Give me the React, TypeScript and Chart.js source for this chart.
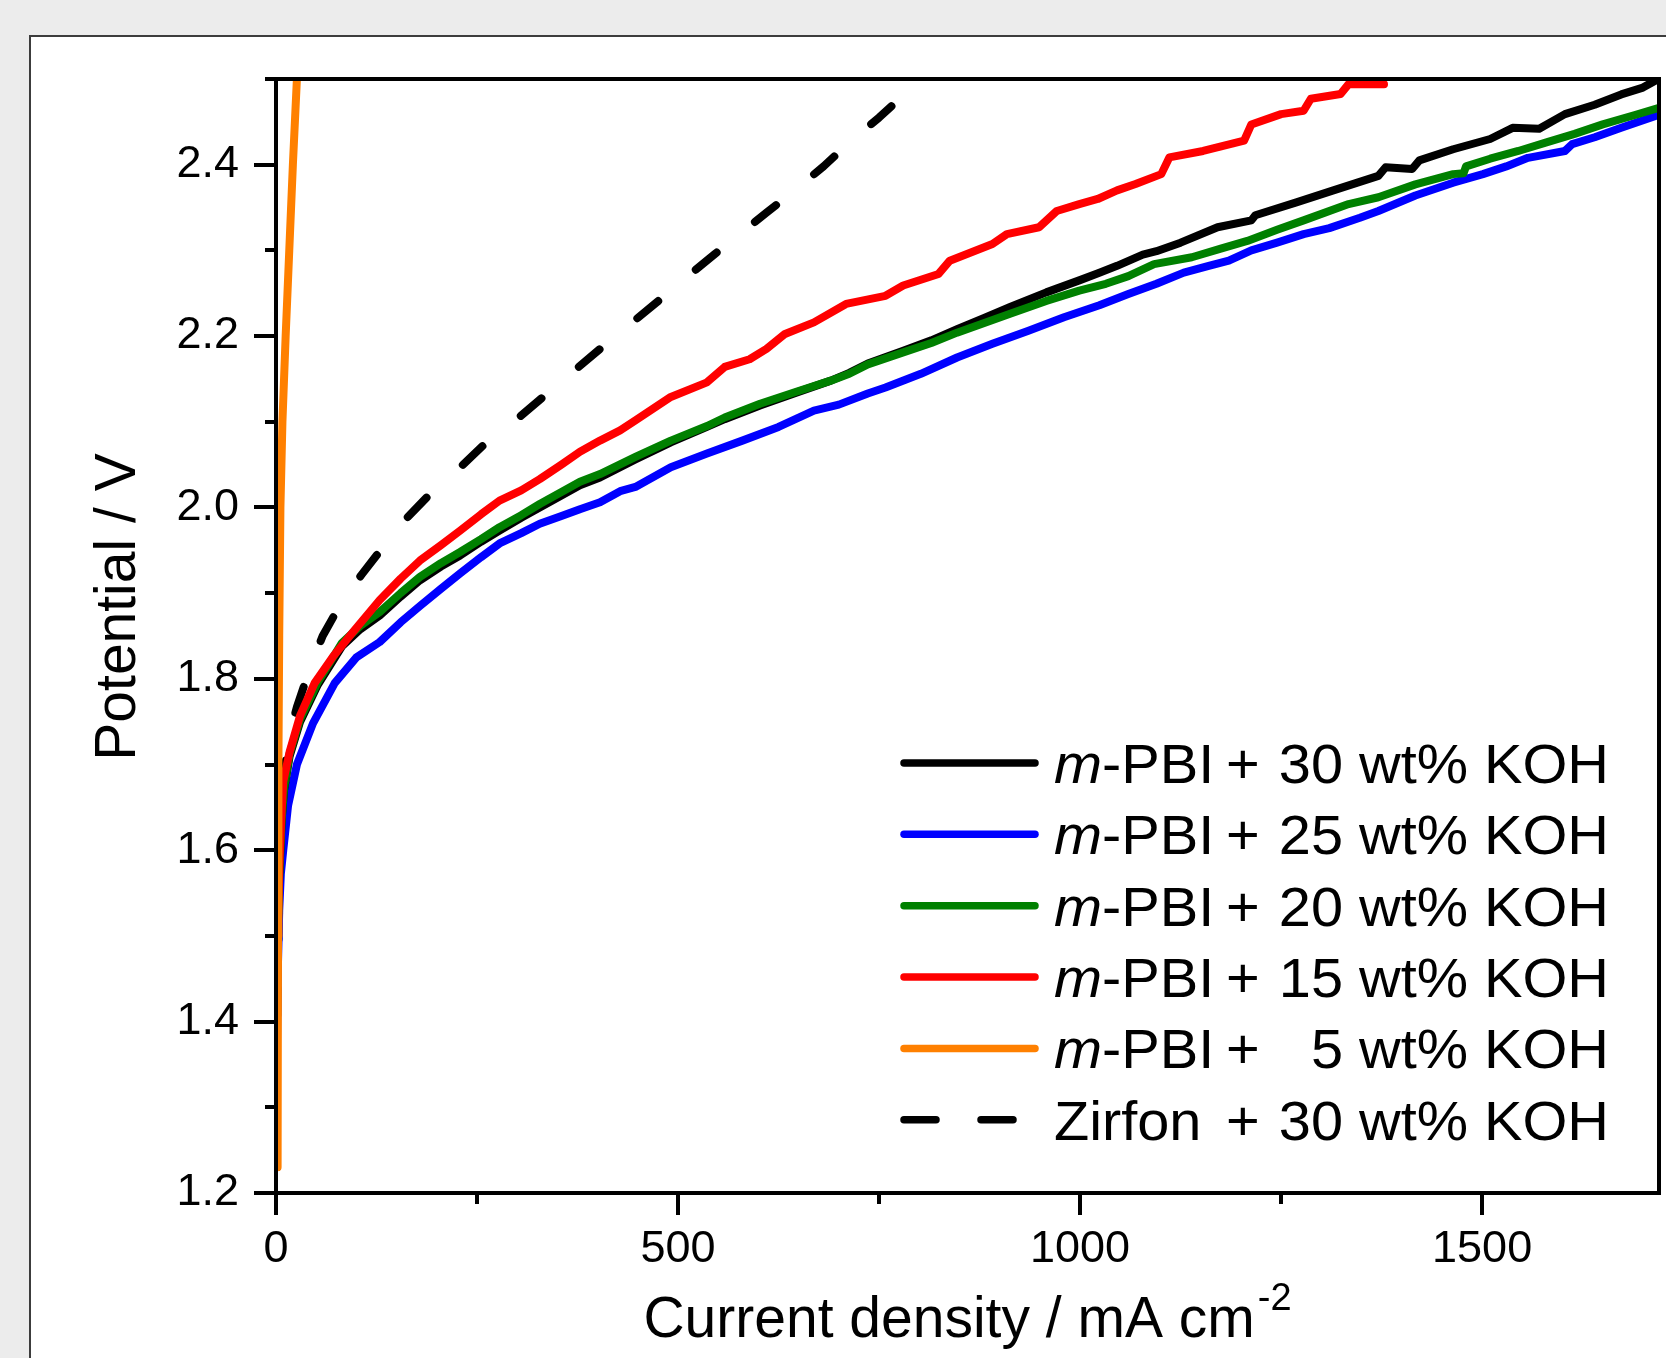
import React, { useEffect, useRef } from "react";
import { Chart, registerables } from "chart.js";

Chart.register(...registerables);

type Pt = [number, number];

// ---- axes ----
const xRange: number[] = [0, 1720];
const yRange: number[] = [1.2, 2.5];
const xMajorTicks: number[] = [0, 500, 1000, 1500];
const xMinorTicks: number[] = [250, 750, 1250];
const yMajorTicks: number[] = [1.2, 1.4, 1.6, 1.8, 2.0, 2.2, 2.4];
const yMinorTicks: number[] = [1.3, 1.5, 1.7, 1.9, 2.1, 2.3, 2.5];
const xTitleMain = "Current density / mA cm";
const xTitleSup = "-2";
const yTitle = "Potential / V";

// ---- series (current density mA cm-2, potential V) ----
const pbi30: Pt[] = [
  [0, 1.23], [1, 1.4], [2, 1.5], [4, 1.57], [7, 1.635], [10, 1.67], [17, 1.71], [30, 1.75], [52, 1.793],
  [82, 1.838], [105, 1.858], [129, 1.874], [155, 1.896], [179, 1.915], [205, 1.931], [229, 1.944],
  [255, 1.96], [278, 1.973], [305, 1.988], [328, 2.0], [355, 2.014], [378, 2.026], [403, 2.035],
  [447, 2.056], [491, 2.076], [536, 2.094], [558, 2.103], [602, 2.119], [647, 2.134], [690, 2.148],
  [713, 2.157], [736, 2.168], [780, 2.183], [815, 2.195], [847, 2.208], [880, 2.221], [913, 2.234],
  [958, 2.251], [999, 2.265], [1024, 2.274], [1046, 2.282], [1078, 2.295], [1095, 2.299], [1125, 2.309],
  [1171, 2.327], [1213, 2.335], [1218, 2.341], [1269, 2.356], [1315, 2.37], [1371, 2.387], [1380, 2.397],
  [1413, 2.395], [1422, 2.405], [1464, 2.418], [1510, 2.43], [1538, 2.443], [1571, 2.442], [1603, 2.459],
  [1640, 2.47], [1673, 2.482], [1700, 2.49], [1719, 2.5],
];
const pbi25: Pt[] = [
  [0, 1.23], [1, 1.35], [2, 1.45], [4, 1.53], [6, 1.572], [9, 1.6], [15, 1.652], [26, 1.7], [46, 1.748],
  [73, 1.795], [100, 1.825], [129, 1.843], [155, 1.866], [179, 1.885], [205, 1.905], [229, 1.923],
  [255, 1.942], [278, 1.958], [305, 1.97], [328, 1.981], [355, 1.99], [378, 1.998], [403, 2.006],
  [428, 2.019], [447, 2.024], [491, 2.047], [536, 2.063], [580, 2.078], [625, 2.094], [669, 2.113],
  [700, 2.12], [736, 2.133], [758, 2.14], [802, 2.156], [847, 2.175], [891, 2.191], [935, 2.206],
  [980, 2.222], [1024, 2.236], [1060, 2.249], [1095, 2.261], [1129, 2.274], [1160, 2.282], [1185, 2.288],
  [1213, 2.3], [1245, 2.309], [1278, 2.319], [1310, 2.326], [1348, 2.338], [1371, 2.346], [1417, 2.364],
  [1464, 2.379], [1501, 2.389], [1530, 2.398], [1557, 2.408], [1603, 2.416], [1612, 2.424], [1640, 2.432],
  [1673, 2.443], [1719, 2.458],
];
const pbi20: Pt[] = [
  [0, 1.23], [1, 1.4], [2, 1.5], [4, 1.57], [7, 1.635], [10, 1.672], [17, 1.713], [30, 1.753], [52, 1.796],
  [82, 1.842], [105, 1.862], [129, 1.878], [155, 1.9], [179, 1.919], [205, 1.935], [229, 1.948],
  [255, 1.963], [278, 1.977], [305, 1.991], [328, 2.004], [355, 2.018], [378, 2.03], [403, 2.039],
  [447, 2.059], [491, 2.078], [536, 2.095], [558, 2.105], [602, 2.121], [647, 2.135], [690, 2.148],
  [713, 2.156], [736, 2.167], [780, 2.181], [815, 2.192], [847, 2.204], [880, 2.215], [913, 2.226],
  [958, 2.241], [999, 2.253], [1032, 2.261], [1060, 2.27], [1092, 2.284], [1139, 2.292], [1175, 2.302],
  [1208, 2.311], [1245, 2.324], [1278, 2.335], [1334, 2.354], [1371, 2.362], [1417, 2.377], [1464, 2.389],
  [1477, 2.39], [1480, 2.398], [1510, 2.407], [1545, 2.416], [1580, 2.426], [1615, 2.436], [1650, 2.447],
  [1690, 2.458], [1719, 2.466],
];
const pbi15: Pt[] = [
  [0, 1.23], [1, 1.42], [2, 1.5], [4, 1.58], [7, 1.645], [9, 1.68], [17, 1.715], [30, 1.757], [48, 1.795],
  [71, 1.826], [96, 1.855], [129, 1.892], [155, 1.917], [179, 1.938], [205, 1.956], [229, 1.973],
  [255, 1.992], [278, 2.008], [305, 2.02], [328, 2.033], [355, 2.05], [378, 2.065], [403, 2.078],
  [428, 2.09], [447, 2.1015], [491, 2.129], [536, 2.146], [558, 2.164], [589, 2.173], [610, 2.185],
  [633, 2.2025], [669, 2.216], [709, 2.2375], [758, 2.247], [780, 2.259], [824, 2.2725], [838, 2.288],
  [891, 2.3075], [909, 2.319], [949, 2.327], [971, 2.346], [999, 2.354], [1022, 2.36], [1046, 2.37],
  [1069, 2.3775], [1101, 2.389], [1111, 2.4085], [1153, 2.416], [1204, 2.428], [1213, 2.447],
  [1250, 2.459], [1278, 2.463], [1287, 2.477], [1324, 2.4825], [1334, 2.494], [1378, 2.494],
];
const pbi5: Pt[] = [
  [2, 1.23], [2.5, 1.5], [3, 1.7], [4, 1.85], [5.5, 2.0], [8, 2.1], [12, 2.2], [16.5, 2.3], [21, 2.4], [26, 2.5],
];
const zirfon30: Pt[] = [
  [0, 1.23], [2, 1.45], [5, 1.58], [8, 1.62], [9.5, 1.68], [15, 1.729], [26, 1.767], [42, 1.812], [58, 1.85],
  [82, 1.89], [106, 1.921], [135, 1.956], [160, 1.985], [196, 2.02], [227, 2.045], [264, 2.078],
  [297, 2.101], [350, 2.143], [403, 2.185], [438, 2.212], [473, 2.239], [506, 2.265], [546, 2.296],
  [577, 2.319], [610, 2.344], [637, 2.364], [681, 2.398], [713, 2.426], [750, 2.455], [784, 2.484], [800, 2.5],
];

// ---- legend / series descriptions (legend order) ----
const seriesData: Pt[][] = [pbi30, pbi25, pbi20, pbi15, pbi5, zirfon30];
const seriesColors: string[] = ["#000000", "#0000ff", "#008000", "#ff0000", "#ff8000", "#000000"];
const seriesDashed: boolean[] = [false, false, false, false, false, true];
const seriesPrefix: string[] = ["m-PBI", "m-PBI", "m-PBI", "m-PBI", "m-PBI", "Zirfon"];
const seriesWt: string[] = ["30", "25", "20", "15", "5", "30"];
const seriesDrawOrder: number[] = [3, 4, 2, 1, 0, 5];

const FONT = '"Liberation Sans", Arial, Helvetica, sans-serif';
const LINE_W = 8;

const overlayPlugin = {
  id: "overlay",
  afterDraw(chart: any) {
    const { ctx, chartArea: ca, scales } = chart;
    ctx.save();
    ctx.setLineDash([]);
    ctx.strokeStyle = "#000";
    ctx.lineWidth = 4;
    ctx.lineCap = "butt";
    ctx.strokeRect(ca.left, ca.top, ca.right - ca.left, ca.bottom - ca.top);

    // minor ticks
    ctx.beginPath();
    yMinorTicks.forEach((v) => {
      const y = Math.round(scales.y.getPixelForValue(v));
      ctx.moveTo(ca.left - 11, y);
      ctx.lineTo(ca.left, y);
    });
    xMinorTicks.forEach((v) => {
      const x = Math.round(scales.x.getPixelForValue(v));
      ctx.moveTo(x, ca.bottom);
      ctx.lineTo(x, ca.bottom + 11);
    });
    ctx.stroke();

    // x title with superscript
    ctx.fillStyle = "#000";
    ctx.textAlign = "left";
    ctx.textBaseline = "alphabetic";
    ctx.font = `57px ${FONT}`;
    const w1 = ctx.measureText(xTitleMain).width;
    ctx.font = `38px ${FONT}`;
    const w2 = ctx.measureText(xTitleSup).width;
    const cx = (ca.left + ca.right) / 2;
    const sx = cx - (w1 + 3 + w2) / 2;
    ctx.font = `57px ${FONT}`;
    ctx.fillText(xTitleMain, sx, ca.bottom + 144);
    ctx.font = `38px ${FONT}`;
    ctx.fillText(xTitleSup, sx + w1 + 3, ca.bottom + 117);

    // y title
    ctx.save();
    ctx.translate(ca.left - 141, (ca.top + ca.bottom) / 2 - 29);
    ctx.rotate(-Math.PI / 2);
    ctx.textAlign = "center";
    ctx.font = `57px ${FONT}`;
    ctx.fillText(yTitle, 0, 0);
    ctx.restore();

    // legend
    const lx0 = ca.right - 755;
    const lx1 = ca.right - 624;
    const textX = ca.right - 605;
    const plusX = ca.right - 433;
    const numRight = ca.right - 316;
    const rowY0 = ca.bottom - 430;
    const rowStep = 71.35;
    const hs = 1.03;
    const drawText = (t: string, x: number, y: number, font: string, align: string) => {
      ctx.save();
      ctx.translate(x, y);
      ctx.scale(hs, 1);
      ctx.font = font;
      ctx.textAlign = align;
      ctx.fillText(t, 0, 0);
      ctx.restore();
    };
    const fN = `56px ${FONT}`;
    const fI = `italic 56px ${FONT}`;
    seriesData.forEach((_, i) => {
      const y = rowY0 + i * rowStep;
      ctx.strokeStyle = seriesColors[i];
      ctx.lineWidth = 7.5;
      ctx.lineCap = "round";
      ctx.setLineDash(seriesDashed[i] ? [32, 45] : []);
      ctx.beginPath();
      ctx.moveTo(lx0, y);
      ctx.lineTo(seriesDashed[i] ? lx0 + 112 : lx1, y);
      ctx.stroke();
      ctx.setLineDash([]);
      const by = y + 20;
      ctx.fillStyle = "#000";
      const pre = seriesPrefix[i];
      if (pre.startsWith("m-")) {
        ctx.font = fI;
        const mw = ctx.measureText("m").width * hs;
        drawText("m", textX, by, fI, "left");
        drawText(pre.slice(1), textX + mw, by, fN, "left");
      } else {
        drawText(pre, textX, by, fN, "left");
      }
      drawText("+", plusX, by, fN, "left");
      drawText(seriesWt[i], numRight, by, fN, "right");
      ctx.font = fN;
      const sp = ctx.measureText(" ").width * hs;
      drawText("wt% KOH", numRight + sp, by, fN, "left");
    });
    ctx.restore();
  },
};

export default function App() {
  const ref = useRef<HTMLCanvasElement>(null);
  useEffect(() => {
    const canvas = ref.current;
    if (!canvas) return;
    const datasets = seriesData.map((d, i) => ({
      label: `${seriesPrefix[i]} + ${seriesWt[i]} wt% KOH`,
      data: d.map(([x, y]) => ({ x, y })),
      borderColor: seriesColors[i],
      backgroundColor: seriesColors[i],
      borderWidth: LINE_W,
      borderDash: seriesDashed[i] ? [27, 49] : [],
      borderCapStyle: "round",
      borderJoinStyle: "round",
      pointRadius: 0,
      fill: false,
      tension: 0,
      order: seriesDrawOrder[i],
      clip: 0,
    }));
    const tickFont = { family: FONT, size: 45 };
    const chart = new Chart(canvas, {
      type: "line",
      data: { datasets } as any,
      options: {
        responsive: false,
        animation: false,
        devicePixelRatio: 1,
        layout: { padding: { left: 156, right: 7, top: 79, bottom: 65 } },
        elements: { line: { borderWidth: LINE_W }, point: { radius: 0 } },
        plugins: {
          legend: { display: false },
          tooltip: { enabled: false },
          title: { display: false },
        },
        scales: {
          x: {
            type: "linear",
            min: xRange[0],
            max: xRange[1],
            afterBuildTicks: (s: any) => {
              s.ticks = xMajorTicks.map((v) => ({ value: v }));
            },
            afterFit: (s: any) => {
              s.height = 100;
            },
            ticks: {
              font: tickFont,
              color: "#000",
              padding: 8,
              maxRotation: 0,
              autoSkip: false,
              callback: (v: any) => String(v),
            },
            grid: {
              drawOnChartArea: false,
              drawTicks: true,
              tickLength: 22,
              tickWidth: 4,
              tickColor: "#000",
              color: "#000",
              lineWidth: 4,
            },
            border: { display: true, color: "#000", width: 4 },
          },
          y: {
            type: "linear",
            min: yRange[0],
            max: yRange[1],
            afterBuildTicks: (s: any) => {
              s.ticks = yMajorTicks.map((v) => ({ value: v }));
            },
            afterFit: (s: any) => {
              s.width = 120;
            },
            ticks: {
              font: tickFont,
              color: "#000",
              padding: 15,
              autoSkip: false,
              callback: (v: any) => Number(v).toFixed(1),
            },
            grid: {
              drawOnChartArea: false,
              drawTicks: true,
              tickLength: 22,
              tickWidth: 4,
              tickColor: "#000",
              color: "#000",
              lineWidth: 4,
            },
            border: { display: true, color: "#000", width: 4 },
          },
        },
      } as any,
      plugins: [overlayPlugin as any],
    });
    return () => chart.destroy();
  }, []);

  return (
    <div
      style={{
        position: "absolute",
        left: 0,
        top: 0,
        width: 1666,
        height: 1358,
        background: "#ececec",
        overflow: "hidden",
      }}
    >
      <div
        style={{
          position: "absolute",
          left: 29,
          top: 35,
          width: 1700,
          height: 1400,
          background: "#ffffff",
          borderLeft: "2px solid #3c3c3c",
          borderTop: "2px solid #3c3c3c",
        }}
      />
      <canvas
        ref={ref}
        width={1666}
        height={1358}
        style={{ position: "absolute", left: 0, top: 0, width: 1666, height: 1358 }}
      />
    </div>
  );
}
